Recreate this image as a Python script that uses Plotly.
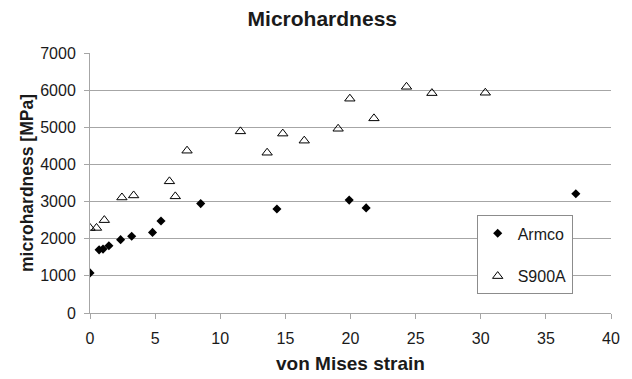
import plotly.graph_objects as go

# Data
armco_x = [0.0, 0.7, 1.0, 1.45, 2.35, 3.2, 4.8, 5.45, 8.5, 14.35, 19.9, 21.2, 37.3]
armco_y = [1080, 1700, 1720, 1810, 1975, 2065, 2170, 2475, 2945, 2800, 3040, 2830, 3210]

s900_x = [0.0, 0.5, 1.1, 2.45, 3.35, 6.1, 6.55, 7.45, 11.55, 13.6, 14.8, 16.45, 19.05, 19.95, 21.8, 24.3, 26.25, 30.35]
s900_y = [2290, 2290, 2500, 3110, 3165, 3545, 3140, 4370, 4890, 4315, 4830, 4640, 4960, 5770, 5240, 6090, 5920, 5930]

x_ticks = [0, 5, 10, 15, 20, 25, 30, 35, 40]
y_ticks = [0, 1000, 2000, 3000, 4000, 5000, 6000, 7000]

FONT = "Liberation Sans, Arial, sans-serif"
GRID = "#a6a6a6"

fig = go.Figure()
fig.add_trace(go.Scatter(
    x=armco_x, y=armco_y, mode="markers", name="Armco", legendgroup="a",
    marker=dict(symbol="diamond", size=7, color="black", line=dict(width=0)),
))
fig.add_trace(go.Scatter(
    x=s900_x, y=s900_y, mode="markers", name="S900A", legendgroup="b",
    marker=dict(symbol="triangle-up-open", size=9, color="black", line=dict(width=1, color="black")),
))

fig.update_layout(
    width=632, height=379,
    paper_bgcolor="white", plot_bgcolor="white",
    margin=dict(l=90, r=21, t=53, b=66),
    font=dict(family=FONT, color="#1a1a1a", size=16),
    title=dict(text="<b>Microhardness</b>", x=0.51, xref="container", xanchor="center",
               y=1 - 19 / 379, yref="container", yanchor="middle",
               font=dict(size=21, family=FONT, color="#1a1a1a")),
    xaxis=dict(
        range=[0, 40], tickvals=x_ticks, ticktext=[str(v) for v in x_ticks],
        showgrid=False, zeroline=False, showline=True, linecolor=GRID, linewidth=1,
        ticks="outside", ticklen=5, tickcolor=GRID, ticklabelstandoff=6,
        automargin=False,
        title=dict(text="<b>von Mises strain</b>", font=dict(size=19), standoff=10),
    ),
    yaxis=dict(
        range=[0, 7000], tickvals=y_ticks, ticktext=[str(v) for v in y_ticks],
        showgrid=True, gridcolor=GRID, gridwidth=1, zeroline=False,
        showline=True, linecolor=GRID, linewidth=1,
        ticks="outside", ticklen=5, tickcolor=GRID, ticklabelstandoff=5,
        automargin=False,
        title=dict(text="<b>microhardness [MPa]</b>", font=dict(size=17.5), standoff=2),
    ),
    legend=dict(
        x=(476.7 - 90) / 521, y=(313.3 - 215.7) / 260, xanchor="left", yanchor="top",
        bgcolor="white", bordercolor="#8c8c8c", borderwidth=1,
        font=dict(size=16, family=FONT, color="#1a1a1a"),
        tracegroupgap=19,
    ),
    showlegend=True,
)

fig.write_html("out.html")
